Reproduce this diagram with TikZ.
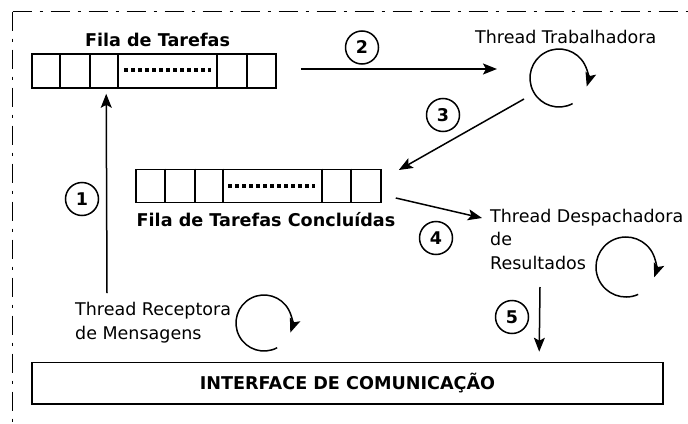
\documentclass[tikz,border=0pt]{standalone}
\usepackage{fontspec}
\setmainfont{DejaVu Sans}
\usetikzlibrary{arrows.meta,calc}

\begin{document}
\begin{tikzpicture}[x=1pt,y=-1pt,
  box/.style={draw,line width=1.6pt,inner sep=0pt},
  tip/.style={-{Stealth[length=14pt,width=11pt,inset=3pt]}},
  arr/.style={tip,line width=1.5pt},
  num/.style={circle,draw,line width=1.5pt,minimum size=33pt,inner sep=0pt,
              font=\fontsize{17.5}{20}\selectfont\bfseries},
  lbl/.style={font=\fontsize{17.5}{23.5}\selectfont,align=left,inner sep=0pt,anchor=north west},
  ttl/.style={font=\fontsize{17.6}{20}\selectfont\bfseries,inner sep=0pt,anchor=base},
  looparc/.style={tip,line width=1.5pt},
  dots/.style={line width=3.5pt,dash pattern=on 4pt off 3pt},
  cellline/.style={line width=1.6pt}
]
\useasboundingbox (0,0) rectangle (688,423);

% outer dash-dot frame (runs past the page on the right and bottom)
\begin{scope}
  \clip (0,0) rectangle (688,423);
  \draw[line width=1.5pt,dash pattern=on 19pt off 8pt on 3pt off 8pt]
    (12.5,11.5) -- (700,11.5);
  \draw[line width=1.5pt,dash pattern=on 19pt off 8pt on 3pt off 8pt]
    (12.5,11.5) -- (12.5,440);
\end{scope}

% task queue
\node[box,minimum width=244pt,minimum height=34pt] (q1) at (154,71) {};
\foreach \dx in {29,59,87,186,216}
  \draw[cellline] ([xshift=\dx pt]q1.north west) -- ([xshift=\dx pt]q1.south west);
\draw[dots] ($(q1.west)+(93,-1)$) -- ($(q1.west)+(180,-1)$);
\node[ttl] (t1) at (157.5,46.5) {Fila de Tarefas};

% finished-task queue
\node[box,minimum width=245pt,minimum height=33pt] (q2) at (258.5,186) {};
\foreach \dx in {30,60,88,187,216}
  \draw[cellline] ([xshift=\dx pt]q2.north west) -- ([xshift=\dx pt]q2.south west);
\draw[dots] ($(q2.west)+(93,0)$) -- ($(q2.west)+(180,0)$);
\node[ttl] (t2) at (266,226) {Fila de Tarefas Concluídas};

% threads
\node[font=\fontsize{17.5}{20}\selectfont,inner sep=0pt,anchor=base west] (work) at (475,43) {Thread Trabalhadora};
\node[lbl] (desp) at (490,209) {Thread Despachadora\\de\\Resultados};
\node[lbl] (recv) at (75,302) {Thread Receptora\\de Mensagens};

% loop symbols
\coordinate (cW) at (559,78);
\coordinate (cD) at (626,267);
\coordinate (cR) at (264,323);
\draw[looparc] (cW) ++(-62:29pt) arc[start angle=-62,end angle=-377,radius=29pt];
\draw[looparc] (cD) ++(-66:30pt) arc[start angle=-66,end angle=-380,radius=30pt];
\draw[looparc] (cR) ++(-62:28pt) arc[start angle=-62,end angle=-380,radius=28pt];

% communication interface
\node[box,minimum width=631pt,minimum height=41.5pt,
      font=\fontsize{17.6}{20}\selectfont\bfseries] (iface) at (347.5,383.25) {INTERFACE DE COMUNICAÇÃO};

% step numbers
\node[num] (n1) at (82,199) {1};
\node[num] (n2) at (362,47.5) {2};
\node[num] (n3) at (443,115) {3};
\node[num] (n4) at (436,238) {4};
\node[num] (n5) at (512,317) {5};

% flow arrows
\draw[arr] ($(recv.north west)+(32,-9)$) -- ($(q1.south west)+(75,5)$);
\draw[arr] ($(q1.east)+(24,-2)$) -- ($(cW)+(-62,-9)$);
\draw[arr] ($(cW)+(-35,21)$) -- ($(q2.east)+(17,-16)$);
\draw[arr] ($(q2.east)+(14,12)$) -- ($(desp.north west)+(-8,9)$);
\draw[arr] ($(desp.north west)+(50,78)$) -- ($(iface.north west)+(508,-10)$);
\end{tikzpicture}
\end{document}
